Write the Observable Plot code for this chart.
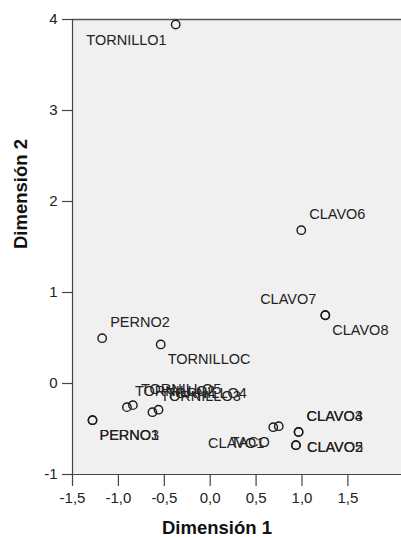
<!DOCTYPE html>
<html>
<head>
<meta charset="utf-8">
<script src="https://cdn.jsdelivr.net/npm/d3@7"></script>
<script src="https://cdn.jsdelivr.net/npm/@observablehq/plot@0.6"></script>
<style>
  html, body { margin: 0; padding: 0; background: #fff; }
  #chart { width: 401px; height: 537px; }
</style>
</head>
<body>
<div id="chart"></div>
<script>
// Objects and their coordinates in the 2-D solution
const names = ["TORNILLO1","CLAVO6","CLAVO7","CLAVO8","PERNO2","TORNILLOC",
  "TORNILLO2","TORNILLO5","TORNILLO3","TORNILLO4","PERNO1","PERNO3",
  "CLAVO1","TACO","CLAVO3","CLAVO4","CLAVO2","CLAVO5"];
const dim1 = [-0.376, 0.992, 1.254, 1.254, -1.177, -0.539,
  -0.907, -0.842, -0.629, -0.563, -1.282, -1.282,
  0.687, 0.747, 0.963, 0.963, 0.934, 0.934];
const dim2 = [3.945, 1.685, 0.750, 0.750, 0.498, 0.429,
  -0.260, -0.238, -0.315, -0.288, -0.403, -0.403,
  -0.480, -0.469, -0.532, -0.532, -0.678, -0.678];
// label placement relative to each point
const labelSide = ["sw","ne","nw","se","ne","se",
  "ne","ne","ne","ne","se","se",
  "sw","sw","ne","ne","e","e"];

const xTicks = [-1.5, -1.0, -0.5, 0.0, 0.5, 1.0, 1.5];
const yTicks = [-1, 0, 1, 2, 3, 4];
const xTitle = "Dimensión 1";
const yTitle = "Dimensión 2";

const data = names.map((n, i) => ({name: n, d1: dim1[i], d2: dim2[i], side: labelSide[i]}));

const sides = {
  ne: {textAnchor: "start", dx: 8, dy: -16},
  nw: {textAnchor: "end", dx: -9, dy: -16},
  se: {textAnchor: "start", dx: 7, dy: 15},
  sw: {textAnchor: "end", dx: -9, dy: 16},
  e:  {textAnchor: "start", dx: 11, dy: 2}
};

const font = "'Liberation Sans', Arial, Helvetica, sans-serif";
const labelMarks = Object.entries(sides).map(([k, o]) =>
  Plot.text(data.filter(d => d.side === k), {
    x: "d1", y: "d2", text: "name",
    textAnchor: o.textAnchor, dx: o.dx, dy: o.dy,
    fontSize: 14.5, fill: "#222", lineAnchor: "middle"
  })
);

const fmtX = d => d.toFixed(1).replace(".", ",").replace("−", "-");
const fmtY = d => String(d);

const chart = Plot.plot({
  width: 401,
  height: 537,
  marginLeft: 72,
  marginRight: 0,
  marginTop: 19,
  marginBottom: 63,
  style: {fontFamily: font, background: "#fff"},
  x: {domain: [-1.5, 2.084]},
  y: {domain: [-1, 4]},
  marks: [
    Plot.frame({fill: "#f0f0f0", stroke: null}),
    Plot.ruleY([4], {stroke: "#555", strokeWidth: 1.6}),
    Plot.ruleY([-1], {stroke: "#444", strokeWidth: 1.2}),
    Plot.ruleX([-1.5], {stroke: "#444", strokeWidth: 1.2}),
    Plot.axisX({ticks: xTicks, tickFormat: fmtX, tickSize: 12, tickPadding: 6, fontSize: 15, label: null, stroke: "#444", strokeWidth: 1.2, fill: "#222"}),
    Plot.axisY({ticks: yTicks, tickFormat: fmtY, tickSize: 10, tickPadding: 5, fontSize: 15, label: null, stroke: "#444", strokeWidth: 1.2, fill: "#222"}),
    Plot.dot(data, {x: "d1", y: "d2", r: 4.2, stroke: "#1a1a1a", strokeWidth: 1.4, fill: "none"}),
    ...labelMarks,
    Plot.text([xTitle], {frameAnchor: "bottom", dx: -20, dy: 54, fontSize: 18.5, fontWeight: "bold", fill: "#111", lineAnchor: "middle"}),
    Plot.text([yTitle], {frameAnchor: "left", dx: -51, dy: 2, rotate: -90, fontSize: 18.5, fontWeight: "bold", fill: "#111", lineAnchor: "middle"})
  ]
});
document.getElementById("chart").append(chart);
</script>
</body>
</html>
